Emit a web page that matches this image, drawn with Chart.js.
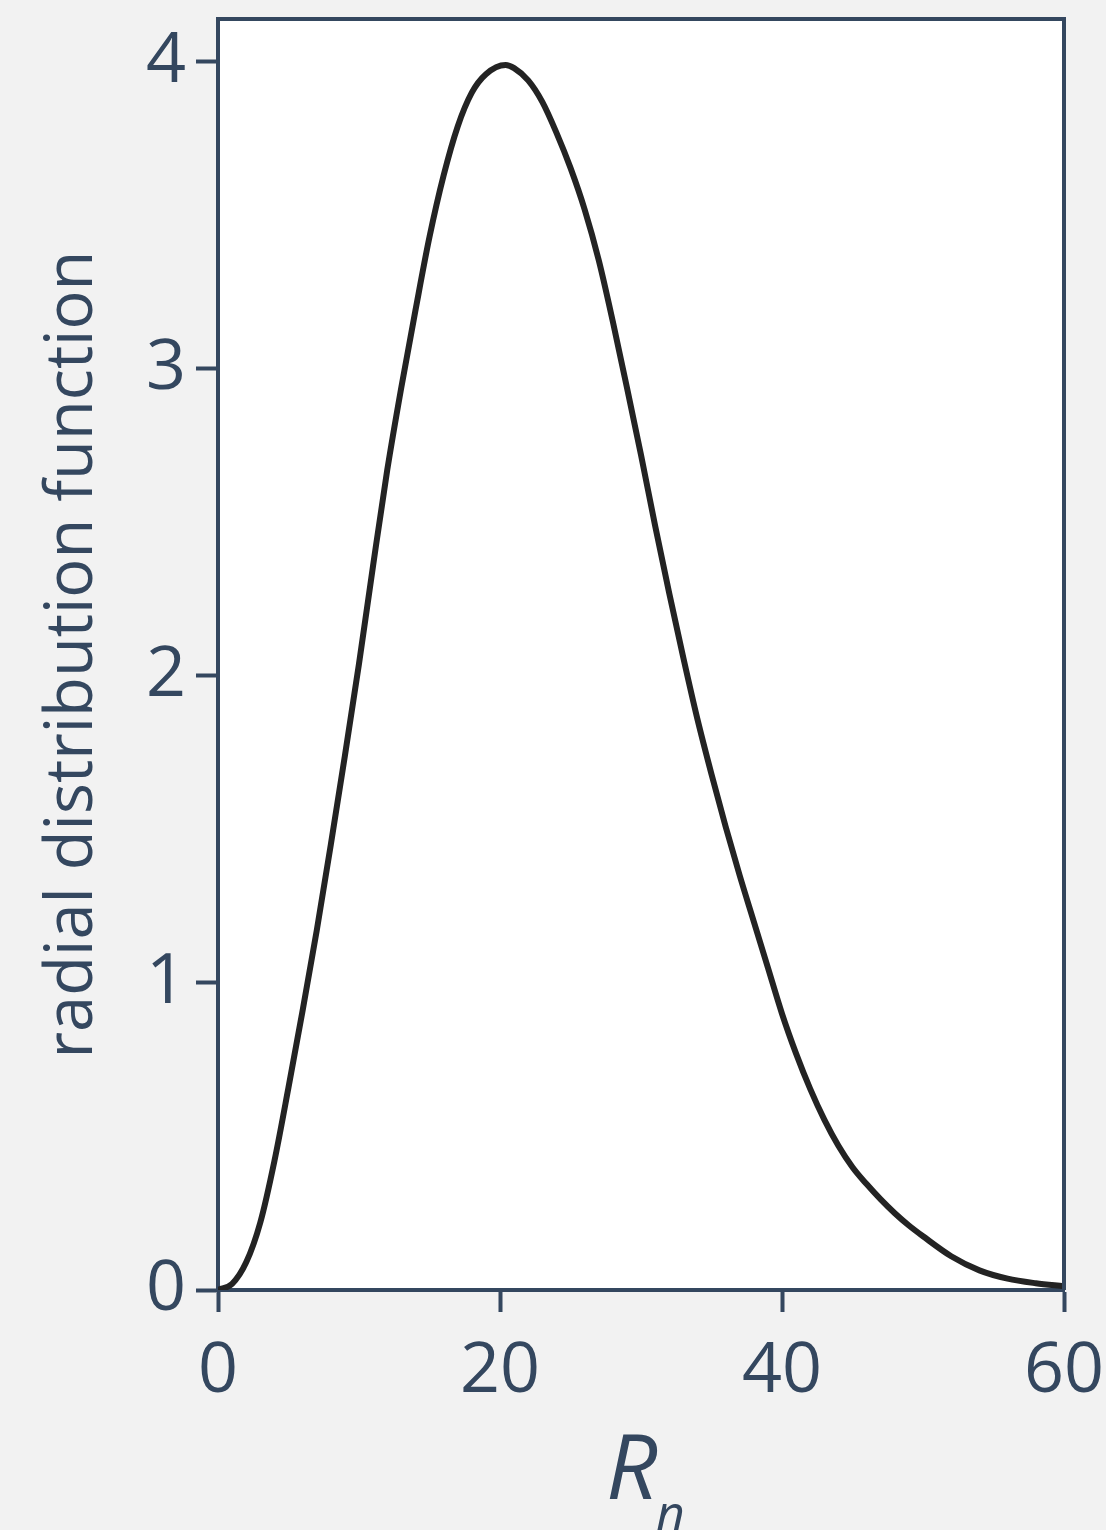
<!DOCTYPE html>
<html>
<head>
<meta charset="utf-8">
<script src="https://cdn.jsdelivr.net/npm/chart.js@4/dist/chart.umd.min.js"></script>
<style>
  html, body { margin: 0; padding: 0; background: #f2f2f2; }
  #wrap { width: 1106px; height: 1530px; }
</style>
</head>
<body>
<div id="wrap"><canvas id="rdfChart" width="1106" height="1530"></canvas></div>
<script>
// values
const rnValues = [0, 1, 2, 3, 4, 5, 6, 7, 8, 9, 10, 11, 12, 13, 14, 15, 16, 17, 18, 19, 20.4,
    21, 22, 23, 24, 25, 26, 27, 28, 29, 30, 31, 32, 33, 34, 35, 36, 37, 38, 39, 40,
    41, 42, 43, 44, 45, 46, 47, 48, 49, 50, 52, 54, 56, 58, 60];
const rdfValues = [0, 0.02, 0.09, 0.22, 0.42, 0.66, 0.91, 1.17, 1.45, 1.74, 2.04, 2.36, 2.67, 2.94, 3.19, 3.43, 3.63, 3.79, 3.90, 3.96, 3.99,
    3.98, 3.94, 3.87, 3.77, 3.655, 3.52, 3.355, 3.155, 2.94, 2.72, 2.49, 2.27, 2.06, 1.86, 1.68, 1.51, 1.35, 1.20, 1.05, 0.90,
    0.77, 0.655, 0.555, 0.47, 0.40, 0.345, 0.295, 0.25, 0.21, 0.175, 0.11, 0.064, 0.037, 0.022, 0.012];
const xTicks = [0, 20, 40, 60];
const yTicks = [0, 1, 2, 3, 4];

const axisColor = '#34475f';
const fontFamily = '"Open Sans", "Noto Sans", sans-serif';

const points = rnValues.map((x, i) => ({ x, y: rdfValues[i] }));

// grey page, white plot area, box around it, italic R_n title
const framePlugin = {
    id: 'frame',
    beforeDraw(chart) {
        const { ctx, chartArea: a } = chart;
        ctx.save();
        ctx.fillStyle = '#f2f2f2';
        ctx.fillRect(0, 0, chart.width, chart.height);
        ctx.fillStyle = '#ffffff';
        ctx.fillRect(a.left, a.top, a.right - a.left, a.bottom - a.top);
        ctx.restore();
    },
    afterDraw(chart) {
        const { ctx, chartArea: a } = chart;
        ctx.save();
        ctx.strokeStyle = axisColor;
        ctx.lineWidth = 4;
        ctx.beginPath();
        ctx.moveTo(a.left - 2, a.top);
        ctx.lineTo(a.right, a.top);
        ctx.lineTo(a.right, a.bottom);
        ctx.stroke();

        ctx.fillStyle = axisColor;
        ctx.textBaseline = 'alphabetic';
        ctx.textAlign = 'left';
        ctx.font = 'italic 90px ' + fontFamily;
        ctx.fillText('R', 606, 1499);
        ctx.font = 'italic 50px ' + fontFamily;
        ctx.fillText('n', 656, 1531);
        ctx.restore();
    }
};

new Chart(document.getElementById('rdfChart'), {
    type: 'scatter',
    data: {
        datasets: [{
            data: points,
            showLine: true,
            borderColor: '#232323',
            borderWidth: 6,
            pointRadius: 0,
            cubicInterpolationMode: 'monotone',
            fill: false
        }]
    },
    options: {
        responsive: false,
        animation: false,
        layout: { padding: { top: 19, right: 42, left: 0, bottom: 0 } },
        plugins: { legend: { display: false }, tooltip: { enabled: false } },
        scales: {
            x: {
                type: 'linear',
                min: 0,
                max: 60,
                afterFit: s => { s.height = 240; s.paddingLeft = 0; s.paddingRight = 0; },
                afterBuildTicks: s => { s.ticks = xTicks.map(v => ({ value: v })); },
                border: { color: axisColor, width: 4 },
                grid: { drawOnChartArea: false, drawTicks: true, tickLength: 22, tickWidth: 4, tickColor: axisColor },
                ticks: { color: axisColor, padding: 18, font: { family: fontFamily, size: 70 }, maxRotation: 0 }
            },
            y: {
                type: 'linear',
                min: 0,
                max: 4.14,
                afterFit: s => { s.width = 218; s.paddingTop = 0; s.paddingBottom = 0; },
                afterBuildTicks: s => { s.ticks = yTicks.map(v => ({ value: v })); },
                border: { color: axisColor, width: 4 },
                grid: { drawOnChartArea: false, drawTicks: true, tickLength: 22, tickWidth: 4, tickColor: axisColor },
                ticks: { color: axisColor, padding: 10, font: { family: fontFamily, size: 70 } },
                title: {
                    display: true,
                    text: 'radial distribution function',
                    color: axisColor,
                    font: { family: fontFamily, size: 65 },
                    padding: { top: 34, bottom: 0 }
                }
            }
        }
    },
    plugins: [framePlugin]
});
</script>
</body>
</html>
